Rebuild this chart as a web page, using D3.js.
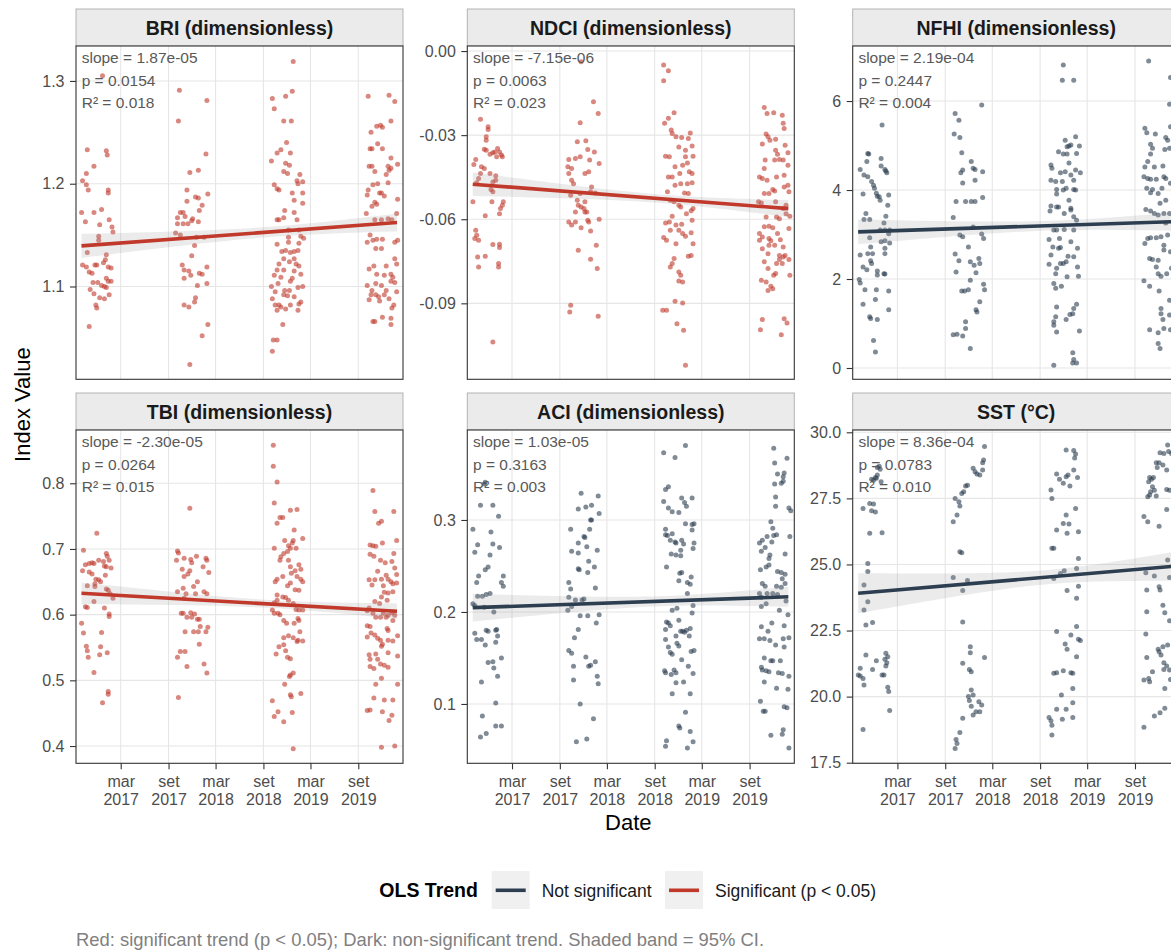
<!DOCTYPE html>
<html>
<head>
<meta charset="utf-8">
<script src="https://cdn.jsdelivr.net/npm/d3@7"></script>
<style>
  body { margin: 0; background: #fff; }
  svg { display: block; font-family: "Liberation Sans", Arial, sans-serif; }
</style>
</head>
<body>
<svg id="chart" width="1171" height="950"></svg>
<script>
"use strict";

// ---- data: [decimal year, value] ----
const briPoints = [
  [2016.97,1.305],[2016.81,1.233],[2017.01,1.232],[2017.02,1.228],[2016.88,1.217],[2016.80,1.210],[2016.76,1.203],[2016.80,1.199],
  [2016.82,1.194],[2017.03,1.194],[2017.03,1.191],[2016.75,1.172],[2016.88,1.172],[2016.96,1.175],[2016.79,1.163],[2016.94,1.160],
  [2017.04,1.165],[2017.07,1.158],[2017.08,1.153],[2016.93,1.149],[2016.93,1.145],[2016.81,1.133],[2017.01,1.131],[2017.00,1.126],
  [2016.76,1.121],[2016.80,1.119],[2016.89,1.121],[2016.91,1.121],[2016.98,1.123],[2017.03,1.119],[2017.06,1.118],[2016.83,1.114],
  [2016.86,1.113],[2016.87,1.104],[2016.92,1.104],[2016.96,1.101],[2017.01,1.108],[2017.03,1.105],[2017.06,1.105],[2016.84,1.097],
  [2016.88,1.093],[2016.99,1.100],[2017.01,1.099],[2017.04,1.092],[2016.99,1.088],[2016.94,1.089],[2016.90,1.082],[2016.91,1.079],
  [2016.83,1.061],
  [2017.78,1.291],[2018.07,1.281],[2017.77,1.261],[2018.06,1.229],[2017.89,1.211],[2017.98,1.213],[2017.86,1.194],[2018.08,1.190],
  [2017.95,1.187],[2017.98,1.186],[2017.86,1.183],[2018.02,1.179],[2017.99,1.174],[2017.79,1.172],[2017.82,1.172],[2017.76,1.167],
  [2017.84,1.168],[2017.92,1.166],[2017.91,1.164],[2017.76,1.161],[2017.82,1.161],[2017.87,1.161],[2017.98,1.163],[2017.74,1.152],
  [2017.79,1.150],[2017.96,1.148],[2018.04,1.148],[2017.94,1.140],[2017.91,1.130],[2017.81,1.121],[2017.83,1.116],[2018.07,1.119],
  [2017.88,1.115],[2017.90,1.111],[2017.83,1.108],[2017.99,1.113],[2018.02,1.112],[2018.07,1.103],[2017.97,1.101],[2017.95,1.089],
  [2017.94,1.085],[2017.83,1.082],[2017.88,1.080],[2018.08,1.063],[2018.02,1.052],[2017.89,1.024],
  [2018.98,1.319],[2018.76,1.283],[2018.90,1.285],[2018.97,1.290],[2018.78,1.273],[2018.88,1.261],[2018.96,1.261],[2018.91,1.240],
  [2018.81,1.230],[2018.85,1.233],[2018.95,1.230],[2018.75,1.222],[2018.90,1.220],[2018.94,1.218],[2018.88,1.212],[2018.92,1.210],
  [2019.05,1.209],[2019.02,1.203],[2019.08,1.202],[2018.78,1.199],[2018.81,1.195],[2018.83,1.194],[2019.03,1.200],[2018.97,1.191],
  [2019.08,1.191],[2018.99,1.184],[2019.08,1.181],[2018.89,1.174],[2018.99,1.172],[2018.81,1.165],[2018.83,1.165],[2018.88,1.167],
  [2019.02,1.165],[2018.93,1.155],[2019.04,1.155],[2018.93,1.148],[2019.06,1.149],[2019.09,1.147],[2018.81,1.141],[2018.93,1.143],
  [2019.04,1.142],[2018.86,1.134],[2018.90,1.135],[2018.95,1.133],[2018.99,1.134],[2019.03,1.135],[2018.88,1.127],[2018.99,1.127],
  [2018.83,1.122],[2018.94,1.124],[2019.01,1.122],[2019.04,1.120],[2018.81,1.116],[2018.88,1.116],[2018.99,1.115],[2018.78,1.111],
  [2018.85,1.109],[2018.97,1.108],[2019.06,1.112],[2018.82,1.103],[2018.95,1.105],[2018.75,1.100],[2018.79,1.095],[2018.89,1.096],
  [2018.94,1.096],[2019.03,1.099],[2019.08,1.100],[2018.88,1.092],[2018.92,1.091],[2018.99,1.090],[2018.76,1.088],[2019.06,1.085],
  [2018.79,1.082],[2018.83,1.082],[2018.85,1.080],[2018.95,1.082],[2019.04,1.083],[2018.81,1.077],[2018.90,1.078],[2019.03,1.077],
  [2018.87,1.063],[2018.77,1.048],[2018.81,1.048],[2018.76,1.037],
  [2019.77,1.285],[2019.99,1.286],[2020.05,1.280],[2020.01,1.261],[2019.86,1.256],[2019.90,1.257],[2019.92,1.255],[2019.80,1.250],
  [2019.87,1.239],[2019.92,1.234],[2019.79,1.234],[2019.81,1.234],[2020.01,1.225],[2019.78,1.217],[2019.81,1.217],[2019.98,1.217],
  [2020.08,1.219],[2020.01,1.215],[2019.84,1.212],[2019.96,1.209],[2019.99,1.213],[2019.77,1.194],[2019.82,1.199],[2019.87,1.200],
  [2019.98,1.201],[2019.76,1.189],[2019.89,1.191],[2019.91,1.191],[2019.84,1.182],[2019.86,1.180],[2019.94,1.188],[2020.08,1.185],
  [2019.81,1.178],[2019.75,1.171],[2019.98,1.166],[2020.02,1.165],[2019.91,1.165],[2019.84,1.165],[2020.07,1.171],[2019.79,1.150],
  [2019.82,1.145],[2019.86,1.146],[2019.92,1.146],[2020.08,1.145],[2020.05,1.143],[2019.76,1.143],[2019.85,1.137],[2019.91,1.137],
  [2020.05,1.127],[2020.07,1.122],[2019.83,1.120],[2019.96,1.120],[2019.78,1.117],[2019.86,1.112],[2019.94,1.111],[2020.01,1.112],
  [2020.03,1.109],[2019.76,1.101],[2019.85,1.103],[2019.91,1.101],[2020.01,1.105],[2020.05,1.104],[2019.81,1.096],[2019.96,1.096],
  [2020.07,1.095],[2019.80,1.092],[2019.85,1.092],[2019.88,1.090],[2019.94,1.092],[2019.78,1.087],[2019.89,1.086],[2019.99,1.088],
  [2020.04,1.082],[2020.02,1.079],[2019.82,1.066],[2019.84,1.066],[2019.92,1.070],[2020.01,1.069],[2020.01,1.063]
];

const ndciPoints = [
  [2016.83,-0.0243],[2016.91,-0.0270],[2016.91,-0.0280],[2016.89,-0.0306],[2016.89,-0.0318],[2016.78,-0.0387],[2016.76,-0.0405],
  [2016.87,-0.0350],[2016.89,-0.0354],[2016.96,-0.0363],[2016.98,-0.0360],[2017.01,-0.0348],[2017.03,-0.0360],[2017.05,-0.0371],
  [2017.06,-0.0377],[2017.00,-0.0377],[2016.93,-0.0368],[2016.84,-0.0413],[2016.87,-0.0419],[2016.83,-0.0437],[2016.93,-0.0437],
  [2016.99,-0.0445],[2016.99,-0.0461],[2016.96,-0.0467],[2016.81,-0.0455],[2016.79,-0.0470],[2016.94,-0.0494],[2016.96,-0.0502],
  [2016.75,-0.0538],[2016.95,-0.0538],[2017.07,-0.0538],[2017.06,-0.0550],[2017.04,-0.0562],[2017.03,-0.0580],[2016.88,-0.0588],
  [2016.78,-0.0639],[2016.79,-0.0657],[2016.81,-0.0675],[2016.77,-0.0669],[2016.80,-0.0735],[2016.88,-0.0732],[2016.81,-0.0770],
  [2016.96,-0.0690],[2017.03,-0.0689],[2017.03,-0.0701],[2017.02,-0.0758],[2017.02,-0.0770],[2016.96,-0.1038],
  [2017.89,-0.0038],[2018.02,-0.0181],[2018.07,-0.0223],[2017.88,-0.0256],[2017.85,-0.0324],[2017.94,-0.0320],[2018.03,-0.0360],
  [2017.96,-0.0351],[2017.76,-0.0387],[2017.83,-0.0383],[2017.88,-0.0377],[2017.98,-0.0389],[2018.08,-0.0401],[2017.75,-0.0413],
  [2017.79,-0.0419],[2017.93,-0.0437],[2017.97,-0.0431],[2017.76,-0.0437],[2017.79,-0.0461],[2017.81,-0.0473],[2018.00,-0.0485],
  [2017.78,-0.0514],[2017.88,-0.0508],[2017.99,-0.0502],[2018.04,-0.0506],[2017.85,-0.0532],[2017.86,-0.0550],[2017.93,-0.0538],
  [2017.89,-0.0556],[2017.92,-0.0562],[2017.93,-0.0574],[2017.83,-0.0574],[2017.95,-0.0574],[2017.76,-0.0610],[2017.79,-0.0621],
  [2017.83,-0.0610],[2017.96,-0.0604],[2017.97,-0.0610],[2018.08,-0.0600],[2017.89,-0.0630],[2017.99,-0.0642],[2017.86,-0.0711],
  [2018.05,-0.0693],[2017.99,-0.0743],[2018.06,-0.0776],[2017.78,-0.0907],[2017.77,-0.0931],[2018.07,-0.0946],
  [2018.76,-0.0050],[2018.81,-0.0070],[2018.76,-0.0106],[2018.87,-0.0220],[2018.81,-0.0240],[2018.77,-0.0258],[2018.84,-0.0282],
  [2018.85,-0.0294],[2018.89,-0.0306],[2018.95,-0.0308],[2019.04,-0.0292],[2019.02,-0.0312],[2018.92,-0.0342],[2018.99,-0.0354],
  [2019.06,-0.0339],[2018.78,-0.0375],[2018.82,-0.0377],[2018.99,-0.0377],[2019.07,-0.0375],[2018.96,-0.0407],[2019.01,-0.0399],
  [2018.88,-0.0413],[2018.81,-0.0449],[2018.85,-0.0449],[2018.93,-0.0437],[2019.03,-0.0431],[2019.06,-0.0437],[2018.88,-0.0479],
  [2018.94,-0.0473],[2019.01,-0.0473],[2019.06,-0.0470],[2018.80,-0.0502],[2018.98,-0.0506],[2019.02,-0.0508],[2018.83,-0.0532],
  [2018.87,-0.0538],[2018.92,-0.0550],[2018.94,-0.0556],[2019.07,-0.0562],[2019.05,-0.0570],[2018.85,-0.0589],[2019.00,-0.0580],
  [2018.78,-0.0613],[2018.82,-0.0610],[2018.89,-0.0621],[2018.95,-0.0618],[2019.06,-0.0604],[2018.83,-0.0639],[2018.92,-0.0639],
  [2018.96,-0.0651],[2018.99,-0.0661],[2019.05,-0.0648],[2018.76,-0.0665],[2018.79,-0.0675],[2018.89,-0.0687],[2019.07,-0.0687],
  [2019.05,-0.0729],[2019.02,-0.0732],[2018.87,-0.0740],[2018.85,-0.0758],[2018.83,-0.0770],[2018.92,-0.0788],[2018.94,-0.0800],
  [2018.92,-0.0820],[2018.96,-0.0824],[2018.88,-0.0893],[2018.96,-0.0899],[2018.75,-0.0925],[2018.79,-0.0925],[2018.90,-0.0973],
  [2018.97,-0.0996],[2018.99,-0.1121],
  [2019.82,-0.0201],[2019.85,-0.0223],[2019.92,-0.0220],[2020.01,-0.0229],[2020.02,-0.0258],[2020.03,-0.0276],[2019.84,-0.0296],
  [2019.86,-0.0306],[2019.80,-0.0332],[2019.88,-0.0318],[2019.94,-0.0315],[2020.04,-0.0336],[2019.94,-0.0354],[2019.96,-0.0368],
  [2020.07,-0.0363],[2020.02,-0.0389],[2019.83,-0.0389],[2019.93,-0.0389],[2019.98,-0.0387],[2020.07,-0.0407],[2020.03,-0.0443],
  [2019.82,-0.0419],[2019.77,-0.0449],[2019.80,-0.0455],[2019.85,-0.0461],[2019.95,-0.0449],[2020.07,-0.0479],[2020.03,-0.0485],
  [2019.91,-0.0494],[2019.93,-0.0499],[2020.08,-0.0502],[2019.82,-0.0508],[2019.87,-0.0508],[2019.76,-0.0538],[2019.79,-0.0542],
  [2019.94,-0.0538],[2020.05,-0.0550],[2020.02,-0.0562],[2020.05,-0.0580],[2020.09,-0.0589],[2019.84,-0.0592],[2019.95,-0.0592],
  [2019.98,-0.0598],[2020.08,-0.0633],[2019.82,-0.0627],[2019.87,-0.0625],[2019.91,-0.0630],[2019.77,-0.0651],[2019.80,-0.0663],
  [2019.77,-0.0675],[2019.87,-0.0669],[2019.89,-0.0677],[2019.96,-0.0651],[2019.99,-0.0673],[2020.02,-0.0699],[2019.80,-0.0705],
  [2019.87,-0.0693],[2019.93,-0.0693],[2019.86,-0.0723],[2019.98,-0.0729],[2020.02,-0.0735],[2020.04,-0.0729],[2020.08,-0.0744],
  [2019.98,-0.0744],[2019.82,-0.0752],[2019.86,-0.0776],[2019.95,-0.0758],[2020.01,-0.0758],[2019.92,-0.0800],[2019.94,-0.0794],
  [2020.09,-0.0800],[2019.79,-0.0818],[2019.84,-0.0824],[2019.89,-0.0839],[2019.86,-0.0854],[2019.91,-0.0848],[2019.80,-0.0958],
  [2019.78,-0.0994],[2020.03,-0.0955],[2020.06,-0.0970],[2020.00,-0.1012]
];

const nfhiPoints = [
  [2017.00,5.46],[2016.85,4.82],[2016.86,4.81],[2016.84,4.64],[2016.77,4.46],[2016.99,4.71],[2016.99,4.54],[2017.03,4.46],
  [2017.04,4.43],[2017.05,4.39],[2016.81,4.34],[2016.85,4.30],[2016.89,4.19],[2016.91,4.11],[2016.92,4.04],[2016.94,3.93],
  [2016.95,3.86],[2016.97,3.85],[2016.98,3.77],[2016.80,3.91],[2017.07,3.89],[2017.06,3.66],[2016.83,3.47],[2016.87,3.34],
  [2016.81,3.34],[2017.04,3.41],[2017.02,3.26],[2016.98,3.10],[2017.03,3.10],[2017.08,3.10],[2017.07,3.02],[2016.87,2.93],
  [2016.99,2.84],[2017.03,2.86],[2017.08,2.81],[2016.88,2.72],[2016.77,2.54],[2016.85,2.57],[2016.90,2.57],[2017.03,2.69],
  [2017.03,2.57],[2016.88,2.41],[2016.89,2.35],[2016.80,2.27],[2016.84,2.21],[2016.95,2.18],[2017.02,2.12],[2017.03,2.11],
  [2016.95,2.09],[2016.76,1.99],[2016.77,1.91],[2016.82,1.76],[2016.94,1.76],[2017.07,1.73],[2016.93,1.54],[2016.80,1.43],
  [2017.07,1.31],[2016.87,1.15],[2016.88,1.11],[2016.95,1.09],[2016.91,0.62],[2016.93,0.36],
  [2017.77,5.72],[2017.81,5.57],[2018.05,5.91],[2017.76,5.26],[2017.82,5.18],[2017.84,4.84],[2017.94,4.64],[2017.96,4.49],
  [2017.98,4.46],[2017.83,4.39],[2017.85,4.45],[2018.06,4.41],[2017.98,4.22],[2017.85,4.16],[2017.78,3.74],[2017.88,3.74],
  [2017.94,3.74],[2017.98,3.74],[2018.06,3.83],[2017.75,3.38],[2017.96,3.17],[2017.82,2.99],[2017.85,2.95],[2018.05,3.01],
  [2018.07,2.91],[2017.91,2.72],[2017.77,2.56],[2017.81,2.41],[2017.93,2.39],[2017.97,2.31],[2018.02,2.46],[2018.03,2.35],
  [2017.99,2.14],[2017.78,2.16],[2017.93,1.97],[2018.07,1.88],[2018.08,1.76],[2017.84,1.73],[2017.87,1.73],[2017.91,1.76],
  [2018.03,1.49],[2017.99,1.31],[2018.00,1.26],[2017.88,1.04],[2017.88,0.89],[2017.75,0.75],[2017.79,0.76],[2017.85,0.72],
  [2017.93,0.44],
  [2018.91,6.81],[2018.90,6.47],[2019.02,6.47],[2019.04,5.20],[2018.99,5.01],[2018.93,5.12],[2018.95,4.97],[2018.97,4.99],
  [2018.86,4.86],[2018.91,4.81],[2018.95,4.81],[2019.08,4.99],[2019.05,4.82],[2018.97,4.61],[2018.78,4.56],[2018.79,4.49],
  [2018.88,4.39],[2018.93,4.41],[2019.04,4.45],[2019.09,4.39],[2018.99,4.34],[2018.78,4.22],[2018.83,4.19],[2018.90,4.19],
  [2019.02,4.22],[2018.84,4.01],[2018.91,4.00],[2018.94,4.04],[2019.02,4.01],[2019.04,4.00],[2018.84,3.91],[2018.97,3.77],
  [2018.78,3.64],[2018.84,3.62],[2018.86,3.62],[2018.77,3.53],[2018.99,3.59],[2018.99,3.55],[2018.92,3.47],[2019.02,3.40],
  [2019.05,3.32],[2018.81,3.10],[2018.84,3.10],[2018.92,3.11],[2019.02,3.10],[2018.76,2.89],[2018.87,2.91],[2018.99,2.84],
  [2018.80,2.72],[2018.86,2.69],[2018.88,2.71],[2019.06,2.69],[2018.78,2.54],[2018.96,2.51],[2019.02,2.50],[2018.88,2.35],
  [2018.91,2.35],[2018.94,2.39],[2018.76,2.33],[2018.84,2.24],[2019.06,2.27],[2018.83,2.12],[2018.95,2.05],[2019.07,2.06],
  [2018.81,1.90],[2018.89,1.84],[2018.83,1.79],[2019.05,1.43],[2019.02,1.34],[2018.84,1.37],[2019.01,1.22],[2018.98,1.20],
  [2018.83,1.15],[2018.81,1.04],[2018.81,0.96],[2018.94,1.09],[2018.84,0.81],[2019.08,0.83],[2019.01,0.34],[2019.02,0.19],
  [2019.01,0.11],[2019.05,0.11],[2018.81,0.06],
  [2019.81,6.90],[2020.04,6.53],[2020.03,5.93],[2019.77,5.39],[2019.79,5.29],[2019.88,5.26],[2020.04,5.42],[2019.83,5.03],
  [2019.85,4.94],[2019.83,4.81],[2019.99,5.18],[2020.01,5.12],[2019.98,4.91],[2020.03,4.94],[2019.80,4.64],[2019.77,4.52],
  [2019.87,4.52],[2019.96,4.54],[2019.76,4.30],[2019.80,4.26],[2019.83,4.24],[2019.89,4.24],[2019.97,4.30],[2019.99,4.26],
  [2020.04,4.15],[2019.79,4.04],[2019.85,4.01],[2019.95,4.04],[2019.83,3.94],[2019.91,3.92],[2019.99,3.77],[2019.93,3.70],
  [2019.78,3.56],[2019.83,3.53],[2019.87,3.47],[2019.91,3.44],[2019.97,3.47],[2020.03,3.47],[2019.99,3.26],[2019.80,2.91],
  [2019.83,2.93],[2019.89,2.93],[2019.94,2.95],[2020.01,2.99],[2019.77,2.80],[2019.97,2.76],[2020.04,2.61],[2019.82,2.46],
  [2019.85,2.44],[2019.91,2.42],[2019.97,2.65],[2019.89,2.27],[2020.05,2.24],[2019.91,2.12],[2019.94,2.06],[2020.00,2.12],
  [2019.76,1.96],[2019.82,1.84],[2019.92,1.73],[2019.94,1.34],[2020.03,1.52],[2019.94,1.22],[2020.03,1.19],[2019.96,1.09],
  [2019.82,0.86],[2019.91,0.79],[2019.97,0.89],[2020.04,0.86],[2019.91,0.55],[2019.93,0.44]
];

const tbiPoints = [
  [2016.77,0.698],[2016.91,0.724],[2016.76,0.667],[2016.79,0.676],[2016.83,0.678],[2016.86,0.679],[2016.88,0.678],[2016.93,0.683],
  [2017.01,0.693],[2017.02,0.689],[2016.98,0.681],[2016.83,0.665],[2016.86,0.662],[2016.99,0.674],[2017.01,0.673],[2017.06,0.671],
  [2017.04,0.683],[2016.90,0.654],[2016.93,0.653],[2016.95,0.650],[2016.89,0.647],[2016.89,0.643],[2016.81,0.644],[2017.00,0.660],
  [2017.01,0.639],[2017.03,0.637],[2017.05,0.632],[2017.08,0.625],[2016.88,0.620],[2016.79,0.612],[2016.81,0.611],[2016.99,0.610],
  [2017.04,0.601],[2017.04,0.597],[2016.75,0.587],[2016.77,0.572],[2016.96,0.573],[2016.80,0.552],[2016.81,0.545],[2016.82,0.535],
  [2016.95,0.551],[2016.94,0.539],[2017.02,0.542],[2016.88,0.512],[2017.03,0.483],[2017.03,0.479],[2016.97,0.466],
  [2017.89,0.762],[2017.76,0.697],[2017.77,0.694],[2017.75,0.683],[2017.83,0.686],[2017.90,0.684],[2017.91,0.679],[2017.96,0.689],
  [2018.06,0.686],[2018.07,0.683],[2017.81,0.669],[2017.83,0.658],[2017.87,0.662],[2017.89,0.667],[2018.03,0.673],[2018.09,0.664],
  [2017.97,0.650],[2017.76,0.635],[2017.82,0.640],[2017.85,0.632],[2017.93,0.643],[2017.95,0.632],[2018.04,0.635],[2018.07,0.632],
  [2017.83,0.625],[2017.80,0.602],[2017.82,0.602],[2017.90,0.603],[2017.94,0.601],[2017.86,0.596],[2017.91,0.596],[2017.97,0.593],
  [2017.99,0.593],[2017.84,0.574],[2017.93,0.574],[2017.98,0.574],[2018.06,0.574],[2018.00,0.582],[2018.08,0.581],[2017.99,0.555],
  [2017.79,0.544],[2017.84,0.544],[2017.76,0.535],[2017.86,0.521],[2018.04,0.525],[2018.07,0.511],[2017.77,0.474],
  [2018.77,0.858],[2018.77,0.826],[2018.81,0.802],[2018.78,0.770],[2018.84,0.748],[2018.87,0.748],[2018.81,0.739],[2018.95,0.759],
  [2019.02,0.760],[2018.89,0.713],[2018.99,0.729],[2018.98,0.713],[2019.08,0.716],[2018.78,0.701],[2018.85,0.688],[2018.88,0.693],
  [2018.93,0.705],[2018.95,0.701],[2019.01,0.701],[2018.97,0.709],[2018.92,0.696],[2018.84,0.683],[2018.93,0.683],[2019.04,0.676],
  [2019.06,0.669],[2019.00,0.667],[2018.95,0.673],[2018.96,0.663],[2019.02,0.658],[2018.81,0.654],[2018.79,0.650],[2018.87,0.658],
  [2019.06,0.654],[2019.08,0.650],[2019.04,0.637],[2018.95,0.648],[2018.92,0.644],[2019.00,0.638],[2018.81,0.630],[2018.87,0.627],
  [2018.90,0.626],[2018.93,0.622],[2018.78,0.618],[2018.81,0.622],[2018.98,0.617],[2019.01,0.608],[2019.04,0.607],[2019.08,0.607],
  [2018.76,0.607],[2018.78,0.602],[2018.82,0.602],[2018.84,0.600],[2018.88,0.591],[2019.03,0.594],[2019.04,0.591],[2018.91,0.587],
  [2018.99,0.587],[2019.05,0.574],[2018.88,0.565],[2018.93,0.568],[2018.98,0.565],[2019.03,0.561],[2019.08,0.560],[2019.02,0.559],
  [2018.83,0.551],[2018.88,0.554],[2018.90,0.545],[2018.80,0.540],[2018.92,0.535],[2018.95,0.533],[2018.95,0.508],[2018.98,0.511],
  [2018.94,0.506],[2018.89,0.494],[2018.95,0.478],[2018.96,0.475],[2019.06,0.480],[2018.76,0.469],[2018.82,0.452],[2018.78,0.445],
  [2018.97,0.451],[2018.88,0.437],[2018.98,0.396],
  [2019.82,0.789],[2019.84,0.757],[2020.04,0.757],[2019.88,0.739],[2019.91,0.742],[2020.07,0.713],[2019.79,0.706],[2019.82,0.705],
  [2019.92,0.709],[2019.85,0.704],[2020.04,0.693],[2019.79,0.692],[2019.83,0.689],[2019.90,0.683],[2019.95,0.679],[2020.02,0.681],
  [2020.05,0.671],[2020.07,0.661],[2019.87,0.666],[2019.96,0.660],[2019.98,0.654],[2019.78,0.653],[2019.84,0.653],[2019.91,0.654],
  [2020.01,0.650],[2020.03,0.647],[2020.07,0.648],[2019.81,0.645],[2019.93,0.644],[2019.94,0.634],[2019.98,0.633],[2020.03,0.635],
  [2019.91,0.627],[2019.97,0.622],[2019.84,0.620],[2019.89,0.617],[2019.78,0.610],[2019.76,0.606],[2019.82,0.602],[2019.93,0.602],
  [2019.98,0.599],[2020.02,0.603],[2020.05,0.599],[2019.85,0.596],[2019.90,0.596],[2019.96,0.596],[2020.03,0.591],[2019.76,0.583],
  [2019.79,0.582],[2019.97,0.579],[2019.98,0.576],[2019.80,0.572],[2019.84,0.569],[2019.76,0.566],[2019.87,0.564],[2019.90,0.561],
  [2019.98,0.561],[2020.03,0.560],[2020.08,0.568],[2019.91,0.552],[2019.92,0.555],[2019.78,0.539],[2019.85,0.540],[2019.98,0.542],
  [2019.79,0.532],[2019.87,0.532],[2019.90,0.525],[2020.08,0.537],[2019.94,0.523],[2019.98,0.520],[2019.79,0.521],[2019.83,0.518],
  [2019.91,0.503],[2019.85,0.494],[2020.08,0.494],[2019.83,0.473],[2019.94,0.470],[2020.03,0.470],[2019.79,0.455],[2019.76,0.454],
  [2019.92,0.452],[2020.02,0.447],[2019.99,0.439],[2019.91,0.398],[2020.05,0.400]
];

const aciPoints = [
  [2016.75,0.290],[2016.77,0.265],[2016.80,0.273],[2016.81,0.239],[2016.79,0.232],[2016.83,0.316],[2016.88,0.341],[2016.87,0.339],
  [2016.96,0.316],[2017.02,0.304],[2016.94,0.287],[2016.96,0.274],[2016.93,0.262],[2017.03,0.270],[2016.88,0.246],[2016.91,0.249],
  [2017.07,0.239],[2017.05,0.232],[2017.07,0.228],[2016.80,0.217],[2016.85,0.217],[2016.89,0.219],[2016.93,0.220],[2016.75,0.209],
  [2016.77,0.207],[2016.87,0.205],[2016.97,0.200],[2016.77,0.177],[2016.79,0.170],[2016.84,0.170],[2016.88,0.164],[2016.89,0.180],
  [2016.91,0.179],[2016.99,0.180],[2017.00,0.181],[2017.01,0.174],[2016.99,0.167],[2017.05,0.150],[2016.91,0.145],[2016.96,0.146],
  [2016.97,0.139],[2017.01,0.130],[2016.84,0.124],[2016.99,0.101],[2016.85,0.087],[2016.99,0.076],[2017.05,0.076],[2016.89,0.068],
  [2016.83,0.064],
  [2017.89,0.329],[2018.07,0.326],[2017.86,0.312],[2017.94,0.314],[2018.00,0.316],[2018.08,0.307],[2017.99,0.300],[2018.00,0.300],
  [2017.78,0.290],[2017.98,0.290],[2017.92,0.282],[2017.93,0.281],[2017.86,0.275],[2017.95,0.271],[2017.79,0.266],[2017.86,0.264],
  [2018.06,0.267],[2017.97,0.255],[2017.86,0.247],[2017.87,0.246],[2017.96,0.243],[2018.03,0.249],[2017.76,0.232],[2017.78,0.225],
  [2018.04,0.226],[2017.76,0.216],[2017.83,0.213],[2017.90,0.213],[2017.92,0.214],[2017.75,0.202],[2017.79,0.206],[2017.88,0.196],
  [2017.96,0.196],[2018.08,0.197],[2018.05,0.188],[2017.86,0.181],[2017.82,0.172],[2017.76,0.158],[2017.79,0.155],[2017.94,0.151],
  [2018.04,0.146],[2017.97,0.141],[2017.99,0.142],[2017.81,0.141],[2017.81,0.126],[2018.06,0.130],[2018.07,0.122],[2017.88,0.100],
  [2018.02,0.084],[2017.84,0.059],[2017.95,0.062],
  [2018.76,0.373],[2018.88,0.368],[2018.99,0.381],[2018.78,0.333],[2018.81,0.336],[2018.76,0.320],[2018.81,0.313],[2018.85,0.309],
  [2018.92,0.308],[2018.95,0.324],[2018.98,0.319],[2019.00,0.315],[2019.06,0.324],[2018.99,0.296],[2019.06,0.295],[2019.08,0.296],
  [2018.78,0.284],[2018.80,0.283],[2018.83,0.278],[2018.78,0.290],[2018.85,0.285],[2018.88,0.276],[2018.89,0.275],[2018.95,0.278],
  [2018.97,0.274],[2019.06,0.289],[2019.08,0.275],[2019.07,0.269],[2018.94,0.267],[2018.84,0.263],[2018.89,0.262],[2018.94,0.261],
  [2018.79,0.249],[2018.93,0.242],[2018.95,0.243],[2018.92,0.234],[2019.01,0.232],[2019.04,0.230],[2019.05,0.238],[2019.01,0.220],
  [2019.07,0.207],[2019.06,0.199],[2018.85,0.202],[2018.90,0.204],[2018.79,0.189],[2018.81,0.188],[2018.83,0.185],[2018.78,0.181],
  [2018.92,0.191],[2018.94,0.179],[2018.96,0.179],[2018.98,0.178],[2019.00,0.180],[2019.03,0.174],[2019.04,0.182],[2018.78,0.170],
  [2018.89,0.174],[2018.90,0.166],[2018.81,0.162],[2018.83,0.156],[2018.85,0.154],[2018.92,0.163],[2019.08,0.158],[2019.05,0.157],
  [2018.95,0.148],[2018.87,0.137],[2018.89,0.134],[2018.77,0.136],[2018.78,0.134],[2018.84,0.132],[2019.02,0.141],[2019.07,0.133],
  [2018.89,0.123],[2018.97,0.124],[2018.85,0.111],[2019.04,0.111],[2018.99,0.091],[2018.92,0.076],[2018.93,0.074],[2018.79,0.060],
  [2018.78,0.054],[2019.04,0.070],[2019.07,0.059],[2019.01,0.052],
  [2019.92,0.378],[2019.93,0.362],[2020.06,0.367],[2019.96,0.350],[2020.02,0.347],[2020.03,0.351],[2019.93,0.339],[2020.00,0.340],
  [2020.02,0.342],[2019.94,0.325],[2019.94,0.315],[2020.08,0.313],[2020.10,0.310],[2019.89,0.298],[2019.91,0.291],[2019.85,0.282],
  [2019.92,0.283],[2019.95,0.284],[2019.77,0.275],[2019.80,0.278],[2019.90,0.276],[2019.83,0.270],[2019.88,0.262],[2019.87,0.258],
  [2020.04,0.263],[2019.79,0.266],[2020.09,0.282],[2019.78,0.246],[2019.84,0.249],[2019.87,0.251],[2019.96,0.244],[2020.00,0.243],
  [2020.04,0.241],[2020.01,0.236],[2019.80,0.231],[2019.83,0.228],[2019.95,0.228],[2020.00,0.227],[2020.04,0.231],[2019.77,0.220],
  [2019.79,0.216],[2019.85,0.220],[2019.91,0.220],[2019.96,0.219],[2019.79,0.206],[2019.84,0.209],[2020.05,0.212],[2019.98,0.202],
  [2020.07,0.197],[2019.79,0.184],[2019.86,0.179],[2019.90,0.188],[2020.03,0.185],[2019.77,0.171],[2019.82,0.171],[2019.88,0.169],
  [2020.02,0.171],[2020.08,0.172],[2019.94,0.164],[2020.03,0.162],[2019.82,0.150],[2019.89,0.147],[2019.91,0.147],[2019.99,0.147],
  [2019.79,0.140],[2019.80,0.137],[2019.84,0.136],[2019.87,0.135],[2019.97,0.134],[2020.01,0.133],[2020.08,0.130],[2019.82,0.124],
  [2019.95,0.117],[2020.07,0.116],[2019.78,0.103],[2019.81,0.092],[2019.83,0.092],[2020.03,0.097],[2020.06,0.096],[2019.89,0.066],
  [2020.02,0.072],[2020.01,0.067],[2020.08,0.052]
];

const sstPoints = [
  [2016.95,28.67],[2016.97,28.72],[2016.98,28.60],[2016.89,28.22],[2016.91,28.19],[2016.94,28.26],[2016.99,28.13],[2016.95,28.38],
  [2016.93,28.29],[2016.80,27.12],[2016.87,27.31],[2016.91,27.29],[2016.89,27.03],[2016.93,26.98],[2016.87,26.18],[2017.00,26.20],
  [2016.85,25.04],[2016.85,24.73],[2016.81,24.22],[2016.85,23.59],[2016.81,23.28],[2016.83,22.71],[2016.90,22.80],[2016.83,21.57],
  [2016.94,21.36],[2016.90,21.03],[2016.77,21.07],[2016.75,20.82],[2016.77,20.78],[2016.80,20.69],[2016.81,20.44],[2017.02,20.82],
  [2017.04,21.64],[2017.06,21.51],[2017.03,21.41],[2017.05,21.28],[2017.04,21.16],[2017.00,20.82],[2017.06,20.35],[2017.07,20.19],
  [2017.08,19.47],[2016.80,18.76],
  [2017.75,26.62],[2017.79,26.87],[2017.77,27.50],[2017.81,27.37],[2017.82,27.21],[2017.84,27.68],[2017.86,27.75],[2017.88,27.97],
  [2017.90,28.00],[2017.96,28.64],[2017.98,28.51],[2018.00,28.42],[2018.03,28.38],[2018.06,28.57],[2018.06,28.85],[2018.07,28.95],
  [2018.08,29.46],[2017.75,24.51],[2017.82,25.48],[2017.84,25.44],[2017.90,24.39],[2017.85,24.01],[2017.85,22.82],[2017.93,21.89],
  [2017.93,21.66],[2017.85,21.26],[2017.92,21.03],[2017.94,20.94],[2018.08,21.48],[2017.94,20.25],[2017.96,20.06],[2017.91,20.00],
  [2017.92,19.85],[2017.94,19.64],[2018.02,19.81],[2018.05,19.68],[2018.03,19.43],[2017.99,19.43],[2017.96,19.30],[2017.85,19.18],
  [2017.82,18.64],[2017.78,18.38],[2017.79,18.23],[2017.77,18.04],
  [2018.94,29.33],[2019.02,29.31],[2019.04,29.18],[2019.03,29.03],[2019.02,28.57],[2018.78,27.82],[2018.79,27.50],[2018.84,28.42],
  [2018.87,28.22],[2018.91,28.07],[2018.94,28.32],[2018.96,28.38],[2018.98,27.97],[2019.06,28.29],[2019.04,27.12],[2018.94,26.87],
  [2018.91,26.55],[2018.97,26.53],[2018.84,26.30],[2019.07,26.24],[2018.95,26.18],[2018.79,25.61],[2018.81,25.61],[2019.07,25.23],
  [2019.05,24.85],[2018.81,24.47],[2018.88,24.66],[2018.92,24.76],[2018.95,24.01],[2019.07,24.18],[2019.05,23.72],[2018.84,22.46],
  [2019.05,22.65],[2018.99,22.33],[2019.07,22.17],[2019.09,22.12],[2018.93,21.99],[2018.95,21.79],[2019.05,21.51],[2018.81,20.88],
  [2018.84,20.90],[2018.91,20.98],[2018.99,20.90],[2019.01,20.88],[2018.89,20.06],[2019.01,20.31],[2019.01,19.77],[2018.84,19.52],
  [2018.94,19.52],[2018.76,19.21],[2018.78,19.09],[2018.79,18.92],[2018.90,19.14],[2019.01,19.21],[2018.79,18.55],
  [2020.01,29.52],[2019.93,29.23],[2019.97,29.20],[2020.02,29.27],[2020.05,29.20],[2019.89,28.85],[2019.92,28.85],[2019.90,28.67],
  [2019.96,28.76],[2020.00,28.57],[2019.82,28.29],[2019.84,28.22],[2019.86,28.29],[2019.81,28.13],[2019.85,27.94],[2019.83,27.75],
  [2019.87,27.81],[2019.80,27.56],[2019.82,27.63],[2019.89,27.59],[2020.00,27.84],[2020.03,27.81],[2020.00,27.08],[2019.76,26.81],
  [2019.80,26.62],[2019.92,26.45],[2020.01,25.17],[2019.78,24.69],[2019.87,24.56],[2020.03,24.51],[2019.79,24.03],[2019.92,24.16],
  [2019.93,24.03],[2019.96,23.46],[2019.79,23.21],[2019.98,23.17],[2020.03,22.87],[2019.78,22.37],[2019.91,21.79],[2019.92,21.70],
  [2019.94,21.57],[2019.96,21.89],[2020.01,21.95],[2019.79,21.48],[2019.97,21.28],[2020.00,21.16],[2020.03,21.01],[2019.97,21.03],
  [2019.76,20.63],[2019.82,20.56],[2019.85,20.94],[2019.81,20.69],[2020.04,20.65],[2019.98,20.31],[2019.98,19.56],[2019.93,19.39],
  [2019.87,19.27],[2019.76,18.84]
];

const panelTitles = ["BRI (dimensionless)", "NDCI (dimensionless)", "NFHI (dimensionless)",
                     "TBI (dimensionless)", "ACI (dimensionless)", "SST (\u00B0C)"];
const panelPoints = [briPoints, ndciPoints, nfhiPoints, tbiPoints, aciPoints, sstPoints];
const slopeLabels = ["1.87e-05", "-7.15e-06", "2.19e-04", "-2.30e-05", "1.03e-05", "8.36e-04"];
const pValues = [0.0154, 0.0063, 0.2447, 0.0264, 0.3163, 0.0783];
const r2Labels = ["0.018", "0.023", "0.004", "0.015", "0.003", "0.010"];
const trendStart = [1.1395, -0.0475, 3.06, 0.6326, 0.2047, 23.91];
const trendEnd = [1.1623, -0.0562, 3.29, 0.6052, 0.2165, 24.93];
const ciAtMean = [0.005, 0.0015, 0.11, 0.006, 0.0055, 0.27];
const ciAtStart = [0.0117, 0.0042, 0.28, 0.0165, 0.015, 0.76];
const trendDates = ["2016-10-01", "2020-01-28"];
const meanDate = "2018-09-28";
const yLimits = [[1.0097, 1.334], [-0.1171, 0.0018], [-0.254, 7.237],
                 [0.3737, 0.8811], [0.0355, 0.3978], [17.477, 30.087]];
const yTicks = [[1.1, 1.2, 1.3], [-0.09, -0.06, -0.03, 0], [0, 2, 4, 6],
                [0.4, 0.5, 0.6, 0.7, 0.8], [0.1, 0.2, 0.3], [17.5, 20, 22.5, 25, 27.5, 30]];
const yTickFormats = [".1f", ".2f", "d", ".1f", ".1f", ".1f"];
const xTickDates = ["2017-03-01", "2017-09-01", "2018-03-01", "2018-09-01", "2019-03-01", "2019-09-01"];
const monthNames = {2: "mar", 8: "set"};
const xLimits = ["2016-09-10", "2020-02-20"];

const sigColor = "#C0392B", nsColor = "#2C3E50";

// ---- layout ----
const panelLeft = [76, 467.3, 852.7];
const rowTop = [46, 430];
const panelW = 327, panelH = 333.3, stripH = 37;

const parseDate = d3.timeParse("%Y-%m-%d");
const fromYear = function(yf) {
    var yr = Math.floor(yf);
    var a = new Date(yr, 0, 1), b = new Date(yr + 1, 0, 1);
    return new Date(+a + (yf - yr) * (b - a));
};
const locale = d3.formatLocale({decimal: ".", thousands: ",", grouping: [3], currency: ["", ""], minus: "-"});

const svg = d3.select("#chart");
svg.append("rect").attr("width", 1171).attr("height", 950).attr("fill", "#fff");

const x = d3.scaleTime().domain(xLimits.map(parseDate)).range([0, panelW]);

panelPoints.forEach(function(points, i) {
    var col = i % 3, row = Math.floor(i / 3);
    var sig = pValues[i] < 0.05;
    var color = sig ? sigColor : nsColor;
    var y = d3.scaleLinear().domain(yLimits[i]).range([panelH, 0]);

    var g = svg.append("g")
               .attr("class", "panel")
               .attr("transform", "translate(" + panelLeft[col] + "," + rowTop[row] + ")");

    // strip
    g.append("rect")
        .attr("x", 0).attr("y", -stripH)
        .attr("width", panelW).attr("height", stripH)
        .attr("fill", "#ebebeb").attr("stroke", "#b3b3b3").attr("stroke-width", 1);
    g.append("text")
        .attr("x", panelW / 2).attr("y", -stripH / 2)
        .attr("dy", "0.36em")
        .attr("text-anchor", "middle")
        .attr("font-size", 19.5).attr("font-weight", "bold").attr("fill", "#1a1a1a")
        .text(panelTitles[i]);

    g.append("rect").attr("width", panelW).attr("height", panelH).attr("fill", "#fff");

    // grid
    g.selectAll(".hgrid").data(yTicks[i]).enter()
        .append("line")
            .attr("class", "hgrid")
            .attr("x1", 0).attr("x2", panelW)
            .attr("y1", y).attr("y2", y)
            .attr("stroke", "#e6e6e6").attr("stroke-width", 1.1);
    g.selectAll(".vgrid").data(xTickDates.map(parseDate)).enter()
        .append("line")
            .attr("class", "vgrid")
            .attr("x1", x).attr("x2", x)
            .attr("y1", 0).attr("y2", panelH)
            .attr("stroke", "#e6e6e6").attr("stroke-width", 1.1);

    // points
    var clip = "clip" + i;
    g.append("clipPath").attr("id", clip)
        .append("rect").attr("width", panelW).attr("height", panelH);
    g.append("g").attr("clip-path", "url(#" + clip + ")")
        .selectAll("circle").data(points).enter()
        .append("circle")
            .attr("cx", function(d) { return x(fromYear(d[0])); })
            .attr("cy", function(d) { return y(d[1]); })
            .attr("r", 2.5)
            .attr("fill", color)
            .attr("fill-opacity", 0.6);

    // OLS trend + 95% band
    var t0 = parseDate(trendDates[0]), t1 = parseDate(trendDates[1]), tm = parseDate(meanDate);
    var trend = d3.scaleTime().domain([t0, t1]).range([trendStart[i], trendEnd[i]]);
    var m = ciAtMean[i], e = ciAtStart[i];
    var halfWidth = function(t) {
        var r = (t - tm) / (t0 - tm);
        return Math.sqrt(m * m + (e * e - m * m) * r * r);
    };
    var ts = d3.range(0, 61).map(function(k) { return new Date(+t0 + (t1 - t0) * k / 60); });
    g.append("path")
        .datum(ts)
        .attr("fill", "#999")
        .attr("fill-opacity", 0.2)
        .attr("d", d3.area()
            .x(function(t) { return x(t); })
            .y0(function(t) { return y(trend(t) - halfWidth(t)); })
            .y1(function(t) { return y(trend(t) + halfWidth(t)); }));
    g.append("line")
        .attr("x1", x(t0)).attr("x2", x(t1))
        .attr("y1", y(trendStart[i])).attr("y2", y(trendEnd[i]))
        .attr("stroke", color).attr("stroke-width", 3.6);

    // border
    g.append("rect").attr("width", panelW).attr("height", panelH)
        .attr("fill", "none").attr("stroke", "#333").attr("stroke-width", 1.1);

    // stats label
    var lines = ["slope = " + slopeLabels[i], "p = " + pValues[i].toFixed(4), "R\u00B2 = " + r2Labels[i]];
    g.selectAll(".stat").data(lines).enter()
        .append("text")
            .attr("class", "stat")
            .attr("x", 5.7)
            .attr("y", function(d, k) { return 17.3 + k * 22.5; })
            .attr("font-size", 15.5).attr("fill", "#595959")
            .text(function(d) { return d; });

    // y axis
    var yAxis = g.append("g")
        .call(d3.axisLeft(y).tickValues(yTicks[i]).tickFormat(locale.format(yTickFormats[i])).tickSize(6).tickPadding(5.5));
    yAxis.select(".domain").remove();
    yAxis.selectAll("line").attr("stroke", "#333").attr("stroke-width", 1.1);
    yAxis.selectAll("text").attr("font-size", 16).attr("fill", "#4d4d4d")
         .attr("font-family", "Liberation Sans, Arial, sans-serif");

    // x axis on the bottom row
    if (row === 1) {
        var xAxis = g.append("g")
            .attr("transform", "translate(0," + panelH + ")")
            .call(d3.axisBottom(x).tickValues(xTickDates.map(parseDate)).tickSize(6).tickFormat(""));
        xAxis.select(".domain").remove();
        xAxis.selectAll("line").attr("stroke", "#333").attr("stroke-width", 1.1);
        xAxis.selectAll(".tick").each(function(d) {
            var t = d3.select(this).select("text")
                .attr("y", 0).attr("dy", null)
                .attr("font-size", 16).attr("fill", "#4d4d4d")
                .attr("font-family", "Liberation Sans, Arial, sans-serif")
                .attr("text-anchor", "middle");
            t.append("tspan").attr("x", 0).attr("y", 23.4).text(monthNames[d.getMonth()]);
            t.append("tspan").attr("x", 0).attr("y", 41.7).text(d.getFullYear());
        });
    }
});

// axis titles
svg.append("text")
    .attr("x", 628.3).attr("y", 830)
    .attr("text-anchor", "middle")
    .attr("font-size", 22).attr("fill", "#000")
    .text("Date");
svg.append("text")
    .attr("transform", "translate(30,404.6) rotate(-90)")
    .attr("text-anchor", "middle")
    .attr("font-size", 22).attr("fill", "#000")
    .text("Index Value");

// legend
const legendItems = [
    {label: "Not significant", color: nsColor, x: 491.7},
    {label: "Significant (p < 0.05)", color: sigColor, x: 665}
];
const legend = svg.append("g").attr("class", "legend");
legend.append("text")
    .attr("x", 379.3).attr("y", 897.3)
    .attr("font-size", 19.5).attr("font-weight", "bold").attr("fill", "#000")
    .text("OLS Trend");
const items = legend.selectAll(".legend-item").data(legendItems).enter()
    .append("g")
        .attr("class", "legend-item")
        .attr("transform", function(d) { return "translate(" + d.x + ",871)"; });
items.append("rect")
    .attr("width", 38).attr("height", 38)
    .attr("fill", "#f0f0f0");
items.append("line")
    .attr("x1", 4).attr("x2", 34).attr("y1", 19.3).attr("y2", 19.3)
    .attr("stroke", function(d) { return d.color; }).attr("stroke-width", 3.6);
items.append("text")
    .attr("x", 50).attr("y", 25.5)
    .attr("font-size", 17.5).attr("fill", "#1a1a1a")
    .text(function(d) { return d.label; });

// caption
svg.append("text")
    .attr("x", 76).attr("y", 946)
    .attr("font-size", 18.4).attr("fill", "#808080")
    .text("Red: significant trend (p < 0.05); Dark: non-significant trend. Shaded band = 95% CI.");
</script>
</body>
</html>
